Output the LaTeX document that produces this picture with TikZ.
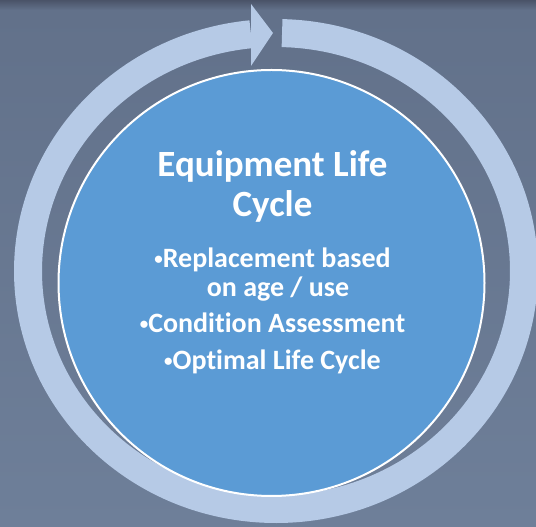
\documentclass[tikz,border=0pt]{standalone}
\usepackage{fontspec}
\setmainfont[Ligatures=NoCommon]{Carlito}
\definecolor{bgtop}{HTML}{4A5368}
\definecolor{bgmid}{HTML}{62718A}
\definecolor{bgbot}{HTML}{6E7F99}
\definecolor{ringc}{HTML}{B6CAE6}
\definecolor{discc}{HTML}{5B9BD5}
\newcommand{\smallbul}{\raisebox{3pt}{\fontsize{17}{17}\selectfont •}}
\tikzset{
  ringline/.style={draw=ringc, line width=28pt, line cap=butt},
  ringhead/.style={fill=ringc},
  disc/.style={circle, fill=discc, draw=white, line width=2pt, minimum size=426pt, inner sep=0pt},
  titletext/.style={text=white, font=\bfseries\fontsize{37}{40}\selectfont, anchor=base},
  itemtext/.style={text=white, font=\bfseries\fontsize{28}{29}\selectfont, anchor=base}
}
\begin{document}
\begin{tikzpicture}[x=1pt,y=1pt]
\useasboundingbox (0,0) rectangle (536,527);
% background
\shade[bottom color=bgbot, top color=bgmid] (0,0) rectangle (536,517);
\shade[bottom color=bgmid, top color=bgtop] (0,517) rectangle (536,527);
% circular arrow
\draw[ringline] (282.06,493.9) arc[start angle=88.6, end angle=-264.2, x radius=248, y radius=238];
\fill[ringhead] (251,523) -- (273,494) -- (251,461) -- cycle;
% central disc
\node[disc] (disc) at (271.5,244) {};
% texts
\node[titletext] (t1) at (272.5,350) {Equipment Life};
\node[titletext] (t2) at (272.5,310) {Cycle};
\node[itemtext] (b1) at (272.5,259) {\smallbul Replacement based};
\node[itemtext] (b1b) at (278,230) {on age / use};
\node[itemtext] (b2) at (272.5,194) {\smallbul Condition Assessment};
\node[itemtext] (b3) at (272.5,157) {\smallbul Optimal Life Cycle};
\end{tikzpicture}
\end{document}
